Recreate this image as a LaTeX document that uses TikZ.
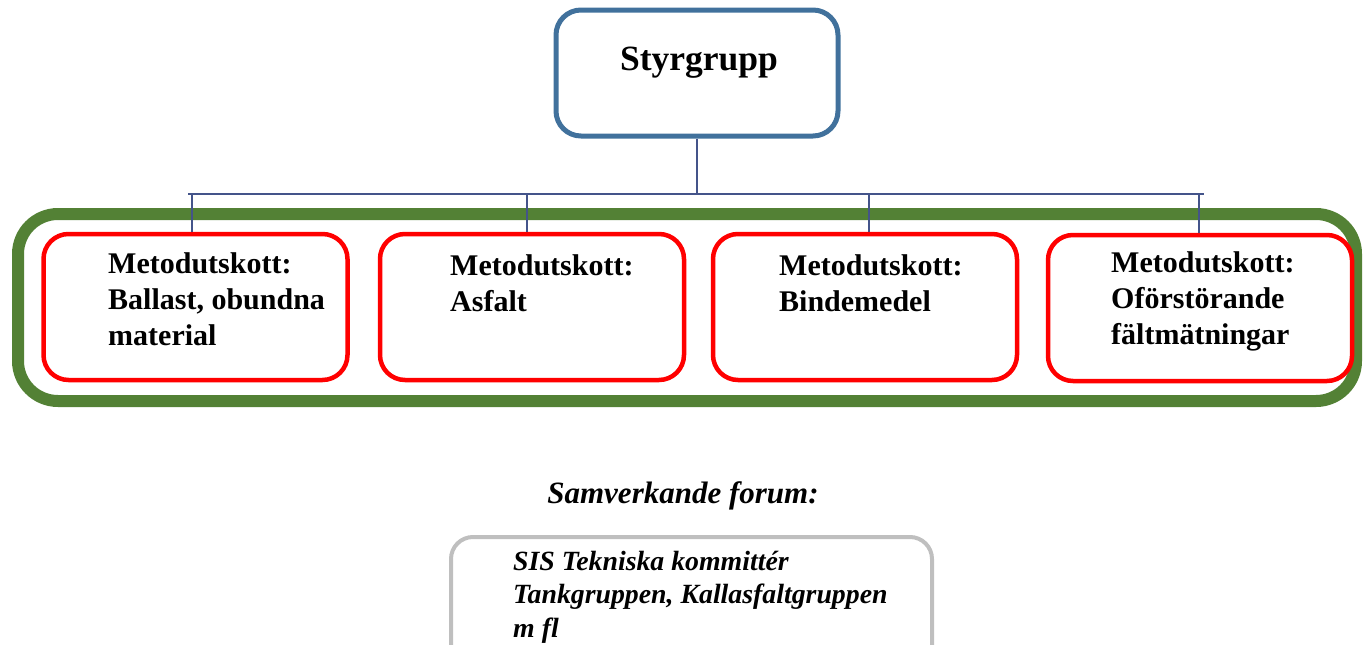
\documentclass[tikz,border=0pt]{standalone}
\usepackage{fontspec}
\setmainfont{Liberation Serif}
\definecolor{styrblue}{HTML}{41719C}
\definecolor{treeblue}{HTML}{44548A}
\definecolor{framegreen}{HTML}{538135}
\definecolor{boxred}{HTML}{FF0000}
\definecolor{boxgray}{HTML}{BFBFBF}
\tikzset{
  styrbox/.style={draw=styrblue, line width=5pt, rounded corners=25pt, minimum width=282pt, minimum height=126pt, inner sep=0pt},
  framebox/.style={draw=framegreen, line width=12pt, rounded corners=40pt, minimum width=1338pt, minimum height=187pt, inner sep=0pt},
  metobox/.style={draw=boxred, line width=4.5pt, rounded corners=25pt, minimum width=304pt, minimum height=146pt, inner sep=0pt},
  forumbox/.style={draw=boxgray, line width=4pt, rounded corners=22pt, minimum width=481pt, minimum height=160pt, inner sep=0pt},
  treeline/.style={draw=treeblue, line width=1.8pt},
  metotext/.style={anchor=base west, align=left, inner sep=0pt, font=\bfseries\fontsize{30}{36}\selectfont},
  forumtext/.style={anchor=base west, align=left, inner sep=0pt, font=\bfseries\itshape\fontsize{27.8}{33.5}\selectfont},
}
\begin{document}
\begin{tikzpicture}[x=1pt,y=-1pt]
\clip (0,0) rectangle (1363,645);
% top box
\node[styrbox] (styr) at (697,73) {};
\node[anchor=base, inner sep=0pt, font=\bfseries\fontsize{35.5}{42}\selectfont] (styrtext) at (699,70) {Styrgrupp};
% green frame
\node[framebox] (frame) at (687,307.5) {};
% method boxes
\node[metobox] (m1) at (195.5,307) {};
\node[metobox] (m2) at (532,307) {};
\node[metobox] (m3) at (865,307) {};
\node[metobox] (m4) at (1200,308) {};
% (base anchor = baseline of the last line)
\node[metotext] (t1) at (108,345) {Metodutskott:\\Ballast, obundna\\material};
\node[metotext] (t2) at (450,311) {Metodutskott:\\Asfalt};
\node[metotext] (t3) at (779,311) {Metodutskott:\\Bindemedel};
\node[metotext] (t4) at (1111,344) {Metodutskott:\\Oförstörande\\fältmätningar};
% tree
\coordinate (bus) at (697,194);
\coordinate (busL) at (188,194);
\coordinate (busR) at (1204,194);
\coordinate (d1) at (192,194);
\coordinate (d2) at (527,194);
\coordinate (d3) at (869,194);
\coordinate (d4) at (1199,194);
\draw[treeline] (styr.south) -- (bus);
\draw[treeline] (busL) -- (busR);
\draw[treeline] (d1) -- (d1 |- m1.north);
\draw[treeline] (d2) -- (d2 |- m2.north);
\draw[treeline] (d3) -- (d3 |- m3.north);
\draw[treeline] (d4) -- (d4 |- m4.north);
% forum
\node[anchor=base, inner sep=0pt, font=\bfseries\itshape\fontsize{31}{37}\selectfont] (forumtitle) at (683,503) {Samverkande forum:};
\node[forumbox] (forum) at (691.5,617) {};
\node[forumtext] (ft) at (513,637) {SIS Tekniska kommittér\\Tankgruppen, Kallasfaltgruppen\\m fl};
\end{tikzpicture}
\end{document}
